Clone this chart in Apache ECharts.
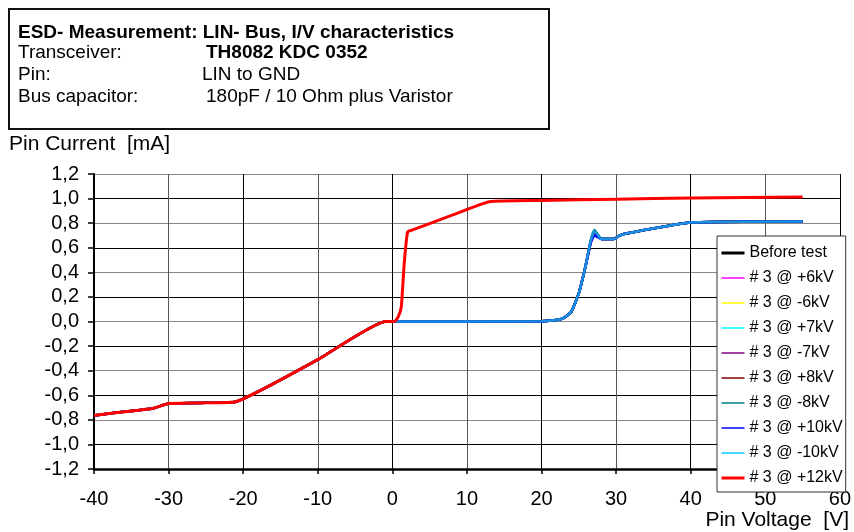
<!DOCTYPE html>
<html><head><meta charset="utf-8">
<script src="https://cdn.jsdelivr.net/npm/echarts@6/dist/echarts.min.js"></script>
<style>html,body{margin:0;padding:0;background:#fff}#c{width:854px;height:532px}</style>
</head><body><div id="c"></div>
<script>
// ---- data ----
const seriesNames = ['Before test','# 3 @ +6kV','# 3 @ -6kV','# 3 @ +7kV','# 3 @ -7kV','# 3 @ +8kV','# 3 @ -8kV','# 3 @ +10kV','# 3 @ -10kV','# 3 @ +12kV'];
const xTicks = [-40,-30,-20,-10,0,10,20,30,40,50,60];
const yTicks = [-1.2,-1.0,-0.8,-0.6,-0.4,-0.2,0,0.2,0.4,0.6,0.8,1.0,1.2];
// negative branch (shared by all curves, red on top)
const negVoltage = [-40, -36, -32, -30, -25, -21, -10, -0.9, 0.3];
const negCurrent = [-0.764, -0.735, -0.705, -0.667, -0.662, -0.653, -0.31, 0.0, 0.0];
// +12kV positive branch
const redVoltage = [0.8, 1.2, 1.6, 2.05, 2.7, 8, 13, 20, 30, 40, 55];
const redCurrent = [0.04, 0.12, 0.48, 0.73, 0.745, 0.865, 0.975, 0.985, 0.995, 1.005, 1.012];
// other curves, positive branch
const blueVoltage = [1, 20, 22, 23, 24, 25, 25.9, 26.6, 27.1, 27.6, 28, 29.7, 30.5, 31.7, 40, 55];
const blueCurrent = {
  before: [0, 0.003, 0.012, 0.03, 0.08, 0.23, 0.45, 0.65, 0.73, 0.70, 0.672, 0.672, 0.70, 0.72, 0.805, 0.813],
  p6:     [0, 0.003, 0.012, 0.03, 0.08, 0.23, 0.45, 0.65, 0.73, 0.70, 0.672, 0.672, 0.70, 0.72, 0.805, 0.813],
  m6:     [0, 0.003, 0.012, 0.03, 0.08, 0.23, 0.45, 0.65, 0.73, 0.70, 0.672, 0.672, 0.70, 0.72, 0.805, 0.813],
  p7:     [0, 0.003, 0.012, 0.03, 0.08, 0.23, 0.45, 0.66, 0.74, 0.70, 0.672, 0.672, 0.70, 0.72, 0.805, 0.813],
  m7:     [0, 0.003, 0.012, 0.03, 0.08, 0.23, 0.45, 0.65, 0.725, 0.695, 0.672, 0.672, 0.70, 0.72, 0.805, 0.813],
  p8:     [0, 0.003, 0.012, 0.03, 0.08, 0.23, 0.45, 0.65, 0.72, 0.69, 0.672, 0.672, 0.70, 0.72, 0.805, 0.813],
  m8:     [0, 0.003, 0.012, 0.03, 0.08, 0.23, 0.45, 0.66, 0.745, 0.70, 0.672, 0.672, 0.70, 0.72, 0.805, 0.813],
  p10:    [0, 0.003, 0.012, 0.03, 0.08, 0.23, 0.45, 0.64, 0.70, 0.685, 0.672, 0.672, 0.70, 0.72, 0.805, 0.813],
  m10:    [0, 0.003, 0.012, 0.03, 0.08, 0.23, 0.45, 0.655, 0.735, 0.70, 0.672, 0.672, 0.70, 0.72, 0.805, 0.813]
};
// ---- styling ----
const curveColors = ['#000000','#ff00ff','#ffff00','#00ffff','#800080','#800000','#008080','#0000ff','#1b8fe0','#ff0000'];
const legendColors = ['#000000','#ff00ff','#ffff00','#00ffff','#800080','#800000','#008080','#0000ff','#00ccff','#ff0000'];
const FONT = '"Liberation Sans", Arial, sans-serif';

function zip(xs, ys){ return xs.map((x,i)=>[x, ys[i]]); }
const negPart = zip(negVoltage, negCurrent);
const keys = ['before','p6','m6','p7','m7','p8','m8','p10','m10'];
const curves = keys.map(k => negPart.concat(zip(blueVoltage, blueCurrent[k])));
curves.push(negPart.concat(zip(redVoltage, redCurrent)));

const series = seriesNames.map((n,i)=>({
  name: n, type: 'line', data: curves[i], showSymbol: false, symbol: 'none',
  lineStyle: { color: curveColors[i], width: i===9 ? 3 : 2.5 },
  itemStyle: { color: curveColors[i] },
  z: 2 + i, animation: false, smooth: 0.15
}));

function txt(x, yc, s, font){
  return { type: 'text', z: 11, style: { x: x, y: yc, text: s, font: font, fill: '#000', verticalAlign: 'middle', align: 'left' } };
}

const chart = echarts.init(document.getElementById('c'), null, {renderer:'canvas'});
chart.setOption({
  animation: false,
  backgroundColor: '#fff',
  grid: { left: 94, right: 13, top: 174, bottom: 63, containLabel: false },
  xAxis: {
    type: 'value', min: xTicks[0], max: xTicks[xTicks.length-1], interval: 10,
    axisLine: { onZero: false, lineStyle: { color: '#000', width: 2.5 } },
    axisTick: { inside: false, length: 5, lineStyle: { color: '#000', width: 1.5 } },
    axisLabel: { margin: 20, color: '#000', fontSize: 20, fontFamily: FONT },
    splitLine: { show: true, lineStyle: { color: ['#000','#555'], width: 1 } }
  },
  yAxis: {
    type: 'value', min: yTicks[0], max: yTicks[yTicks.length-1], interval: 0.2,
    axisLine: { onZero: false, lineStyle: { color: '#000', width: 2 } },
    axisTick: { inside: false, length: 6, lineStyle: { color: '#000', width: 1.5 } },
    axisLabel: { margin: 15, color: '#000', fontSize: 20, fontFamily: FONT,
      formatter: v => v.toFixed(1).replace('.', ',') },
    splitLine: { show: true, lineStyle: { color: ['#888','#000'], width: 1 } }
  },
  legend: {
    orient: 'vertical', left: 717, top: 236,
    padding: [8, 3, 5, 3], itemGap: 7, itemWidth: 23, itemHeight: 10,
    backgroundColor: '#fff', borderColor: '#333', borderWidth: 1,
    textStyle: { color: '#000', fontSize: 16, fontFamily: FONT, lineHeight: 18 },
    data: seriesNames.map((n,i)=>({ name: n,
      lineStyle: { color: legendColors[i], width: (i===0||i===9) ? 3 : 1.5 },
      itemStyle: { color: 'rgba(0,0,0,0)', opacity: 0, borderWidth: 0 } }))
  },
  graphic: [
    { type: 'rect', z: 10, shape: { x: 9, y: 9, width: 540, height: 120 },
      style: { fill: '#fff', stroke: '#111', lineWidth: 2 } },
    txt(18, 33, 'ESD- Measurement: LIN- Bus, I/V characteristics', 'bold 19px ' + FONT),
    txt(18, 53, 'Transceiver:', '19px ' + FONT),
    txt(206, 53, 'TH8082 KDC 0352', 'bold 19px ' + FONT),
    txt(18, 75, 'Pin:', '19px ' + FONT),
    txt(202, 75, 'LIN to GND', '19px ' + FONT),
    txt(18, 97, 'Bus capacitor:', '19px ' + FONT),
    txt(206, 97, '180pF / 10 Ohm plus Varistor', '19px ' + FONT),
    txt(9, 144, 'Pin Current  [mA]', '21px ' + FONT),
    { type: 'text', z: 11, style: { x: 849, y: 520, text: 'Pin Voltage  [V]', font: '21px ' + FONT, fill: '#000', verticalAlign: 'middle', align: 'right' } }
  ],
  series: series
});
</script></body></html>
